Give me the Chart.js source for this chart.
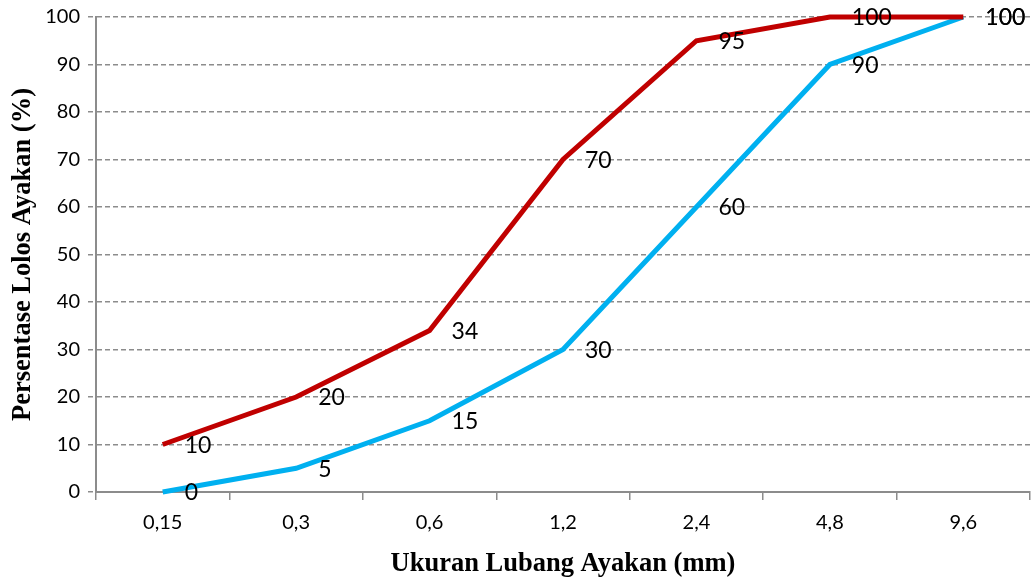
<!DOCTYPE html>
<html>
<head>
<meta charset="utf-8">
<script src="https://cdn.jsdelivr.net/npm/chart.js@4/dist/chart.umd.min.js"></script>
<style>
  html, body { margin: 0; padding: 0; background: #fff; }
  #wrap { width: 1035px; height: 581px; position: relative; }
</style>
</head>
<body>
<div id="wrap"><canvas id="c" width="1035" height="581"></canvas></div>
<script>
// Sieve sizes (mm) and percentage passing for the two grading limits
const sieveSizes = ['0,15', '0,3', '0,6', '1,2', '2,4', '4,8', '9,6'];
const upperLimit = [10, 20, 34, 70, 95, 100, 100];
const lowerLimit = [0, 5, 15, 30, 60, 90, 100];
const yTicks = [0, 10, 20, 30, 40, 50, 60, 70, 80, 90, 100];

const gridGray = '#8c8c8c';

// Writes each point's value just to the right of and slightly below the point
const valueLabels = {
  id: 'valueLabels',
  afterDatasetsDraw(chart) {
    const ctx = chart.ctx;
    ctx.save();
    ctx.font = '23px Lato';
    ctx.fillStyle = '#000';
    ctx.textAlign = 'left';
    ctx.textBaseline = 'middle';
    chart.data.datasets.forEach((ds, i) => {
      const meta = chart.getDatasetMeta(i);
      meta.data.forEach((pt, j) => {
        ctx.fillText(String(ds.data[j]), pt.x + 22, pt.y + 1);
      });
    });
    ctx.restore();
  }
};

new Chart(document.getElementById('c'), {
  type: 'line',
  data: {
    labels: sieveSizes,
    datasets: [
      {
        label: 'Batas atas',
        data: upperLimit,
        borderColor: '#C00000',
        borderWidth: 5,
        pointRadius: 0,
        tension: 0,
        fill: false,
        clip: false
      },
      {
        label: 'Batas bawah',
        data: lowerLimit,
        borderColor: '#00B0F0',
        borderWidth: 5,
        pointRadius: 0,
        tension: 0,
        fill: false,
        clip: false
      }
    ]
  },
  options: {
    responsive: false,
    animation: false,
    devicePixelRatio: 1,
    layout: { padding: { top: 17, right: 5, left: 0, bottom: 0 } },
    plugins: {
      legend: { display: false },
      tooltip: { enabled: false }
    },
    scales: {
      x: {
        type: 'category',
        offset: true,
        afterFit(scale) { scale.height = 89; },
        grid: {
          offset: true,
          drawOnChartArea: false,
          drawTicks: true,
          tickLength: 8,
          color: gridGray,
          lineWidth: 1.5
        },
        border: { display: true, color: gridGray, width: 2 },
        ticks: {
          color: '#000',
          font: { family: 'Lato', size: 20 },
          padding: 11,
          maxRotation: 0
        },
        title: {
          display: true,
          text: 'Ukuran Lubang Ayakan (mm)',
          color: '#000',
          font: { family: 'Liberation Serif', size: 26.5, weight: 'bold' },
          padding: { top: 0, bottom: 1 }
        }
      },
      y: {
        min: 0,
        max: 100,
        afterFit(scale) {
          scale.width = 96;
          scale.paddingTop = 0;
          scale.paddingBottom = 0;
        },
        afterBuildTicks(scale) { scale.ticks = yTicks.map(v => ({ value: v })); },
        grid: {
          color: gridGray,
          lineWidth: 1.5,
          tickLength: 8,
          drawTicks: true,
          tickBorderDash: [5, 3]
        },
        // dashed horizontal gridlines; the axis line itself stays solid
        border: { display: true, color: gridGray, width: 2, dash: [5, 3] },
        ticks: {
          color: '#000',
          font: { family: 'Lato', size: 20 },
          padding: 8
        },
        title: {
          display: true,
          text: 'Persentase Lolos Ayakan (%)',
          color: '#000',
          font: { family: 'Liberation Serif', size: 26.5, weight: 'bold' },
          padding: { top: 7, bottom: 0 }
        }
      }
    }
  },
  plugins: [valueLabels]
});
</script>
</body>
</html>
